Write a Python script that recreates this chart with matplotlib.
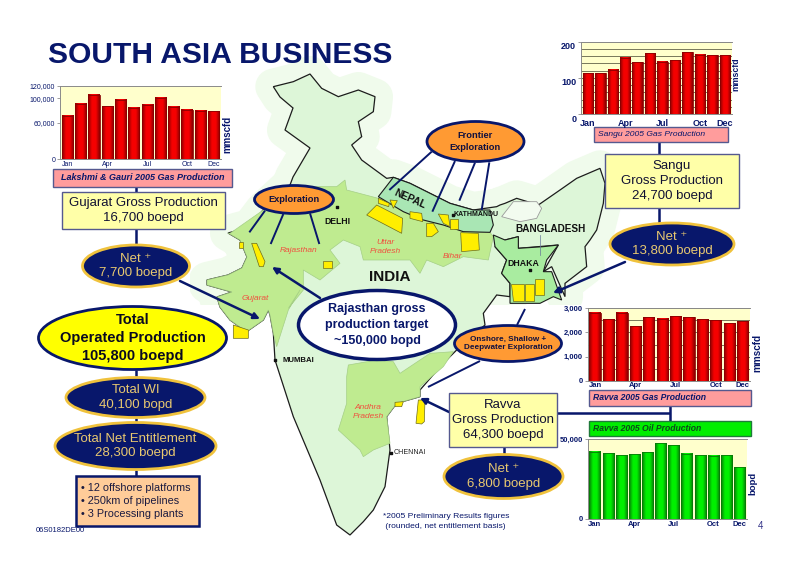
import numpy as np
import matplotlib
matplotlib.use('Agg')
import matplotlib.pyplot as plt
from matplotlib.patches import Ellipse, Polygon, Rectangle
from matplotlib.colors import LinearSegmentedColormap
from matplotlib.transforms import ScaledTranslation

plt.rcParams['font.family'] = ['Liberation Sans', 'DejaVu Sans']

# monthly production
tick_idx = [0, 3, 6, 9, 11]
tick_names = ['Jan', 'Apr', 'Jul', 'Oct', 'Dec']
lakshmi_gas = [70400, 90500, 105800, 86700, 97600, 84000, 89500, 101000, 85600, 80700, 79600, 78500]
sangu_gas = [113, 113, 123, 155, 143, 168, 145, 148, 171, 164, 162, 162]
ravva_gas = [2820, 2558, 2820, 2253, 2640, 2571, 2668, 2640, 2544, 2516, 2392, 2475]
ravva_oil = [42200, 41200, 39900, 40500, 42000, 47500, 46400, 41000, 40100, 39700, 40100, 32600]

NAVY = '#08176b'
GOLD = '#f0c23c'
GOLD_TXT = '#e8c870'
ORANGE = '#ff9a33'
CREAM = '#ffffa8'
EDGE = '#55598f'

Z5 = (230, 70)
Z6 = (230, 290)
Z9 = (490, 140)


def z(pts, origin):
    return [(origin[0] + a / 3, origin[1] + b / 3) for a, b in pts]


india = (
    z([(130, 50), (190, 35), (240, 12), (275, 55), (325, 80), (385, 60), (435, 80), (430, 125),
       (385, 155), (395, 200), (365, 225), (395, 270), (470, 325), (490, 322), (540, 340),
       (600, 370), (660, 400), (730, 420), (800, 410)], Z5)
    + z([(30, 195), (45, 190), (80, 175), (145, 195), (210, 150), (260, 115), (330, 85), (345, 130),
         (340, 190), (320, 270), (300, 300), (285, 320), (290, 380), (225, 430), (225, 470),
         (205, 425), (185, 380), (160, 395), (205, 315), (85, 325), (85, 290), (45, 300), (15, 320),
         (50, 360), (35, 400), (60, 430), (60, 470)], Z9)
    + z([(800, 15), (760, 70), (765, 105), (690, 170), (640, 220), (570, 300), (570, 320),
         (500, 340), (470, 380), (480, 480), (465, 590), (430, 660), (400, 695), (360, 735),
         (320, 705), (270, 570), (190, 380), (135, 210), (130, 130), (120, 75), (115, 60),
         (100, 90), (50, 125), (0, 90)], Z6)
    + [(220, 307), (217, 297), (232, 292), (207, 285), (207, 280), (228, 275), (242, 268), (247, 257),
       (240, 240), (228, 233), (250, 227), (263, 210), (290, 185), (293, 177), (310, 148), (285, 130),
       (293, 108), (280, 97)]
)
north_states = (
    z([(0, 490), (100, 420), (190, 350), (320, 350), (345, 330), (350, 360), (445, 385), (470, 395),
       (520, 425), (580, 450), (640, 465), (700, 485), (780, 487), (790, 500), (775, 570), (700, 560),
       (640, 590), (590, 570), (570, 610), (540, 570), (400, 570), (390, 530), (340, 510), (300, 540),
       (330, 580), (270, 630), (220, 600), (220, 660), (175, 715)], Z5)
    + z([(210, 0), (175, 60), (140, 170), (130, 130), (120, 75), (115, 60), (100, 90), (50, 125), (0, 90)], Z6)
    + [(220, 307), (217, 297), (232, 292), (207, 285), (207, 280), (228, 275), (242, 268), (247, 257),
       (240, 240), (228, 233)]
)
andhra = z([(355, 225), (440, 210), (490, 215), (510, 250), (600, 190), (670, 185), (640, 230), (570, 290),
            (570, 320), (500, 340), (470, 380), (480, 460), (430, 480), (400, 500), (390, 480), (325, 420),
            (350, 340), (350, 260)], Z6)
nepal = z([(445, 380), (490, 322), (540, 340), (600, 370), (660, 400), (730, 420), (780, 420), (790, 465),
           (780, 487), (700, 485), (640, 465), (580, 450), (520, 425), (470, 395)], Z5)
bangladesh = z([(10, 285), (45, 300), (85, 290), (85, 325), (160, 320), (205, 315), (170, 360), (160, 395),
                (185, 395), (215, 480), (190, 470), (150, 490), (100, 490), (60, 490), (60, 430), (35, 400),
                (50, 360), (15, 320)], Z9)
bhutan = z([(815, 440), (850, 395), (920, 395), (935, 415), (920, 445), (870, 455)], Z5)
blocks = [
    z([(410, 435), (440, 405), (518, 445), (515, 490)], Z5),
    z([(445, 385), (478, 400), (476, 410), (445, 400)], Z5),
    z([(480, 390), (502, 392), (490, 415)], Z5),
    z([(540, 425), (575, 430), (578, 455), (540, 445)], Z5),
    z([(590, 460), (610, 460), (625, 485), (605, 500), (590, 500)], Z5),
    z([(625, 432), (655, 435), (660, 470), (640, 460)], Z5),
    z([(660, 447), (685, 447), (685, 478), (660, 478)], Z5),
    z([(692, 488), (745, 490), (748, 540), (695, 545)], Z5),
    z([(280, 573), (305, 573), (305, 595), (280, 595)], Z5),
    z([(65, 520), (80, 520), (105, 575), (100, 590), (88, 590)], Z5),
    z([(28, 515), (40, 515), (40, 535), (28, 535)], Z5),
    z([(10, 105), (55, 120), (55, 145), (10, 145)], Z6),
    z([(495, 337), (520, 335), (515, 350), (495, 350)], Z6),
    z([(565, 330), (585, 330), (583, 395), (575, 402), (558, 400)], Z6),
    z([(62, 433), (102, 433), (102, 483), (70, 483)], Z9),
    z([(105, 432), (132, 432), (132, 483), (105, 483)], Z9),
    z([(135, 418), (162, 418), (162, 465), (135, 465)], Z9),
]

fig = plt.figure(figsize=(8, 5.65), dpi=100, facecolor='white')
bg = fig.add_axes([0, 0, 1, 1])
bg.set_xlim(0, 800)
bg.set_ylim(565, 0)
bg.axis('off')

# map; the pale halo only shows around the northern part
halo = Polygon(india, closed=True, fc='#f0fbec', ec='#f0fbec', lw=26, joinstyle='round', zorder=1)
bg.add_patch(halo)
halo.set_clip_path(Rectangle((190, 55), 440, 250, transform=bg.transData))
bg.add_patch(Polygon(india, closed=True, fc='#ddf6d8', ec='#1c1c1c', lw=0.9, zorder=2))
bg.add_patch(Polygon(north_states, closed=True, fc='#bfeb90', ec='#a5cf86', lw=0.5, zorder=3))
bg.add_patch(Polygon(andhra, closed=True, fc='#bfeb90', ec='#a5cf86', lw=0.5, zorder=3))
bg.add_patch(Polygon(nepal, closed=True, fc='#a9e6b4', ec='#1c1c1c', lw=0.8, zorder=4))
bg.add_patch(Polygon(bangladesh, closed=True, fc='#a9eca0', ec='#1c1c1c', lw=0.8, zorder=4))
bg.add_patch(Polygon(bhutan, closed=True, fc='#f2fbef', ec='#9a9a9a', lw=0.6, zorder=4))
for block in blocks:
    bg.add_patch(Polygon(block, closed=True, fc='#ffee00', ec='#6b6b20', lw=0.5, zorder=5))
# city dots
bg.scatter([337, 453, 530, 275, 391], [207, 215, 270, 360, 453], s=2, color='#111111', marker='s', zorder=5)
bg.plot([540, 540], [235, 255], color='#667799', lw=0.5, zorder=5)


def link(x0, y0, x1, y1, lw=1.8):
    bg.plot([x0, x1], [y0, y1], color=NAVY, lw=lw, zorder=6, solid_capstyle='butt')


def arrow(x0, y0, x1, y1):
    bg.annotate('', xy=(x1, y1), xytext=(x0, y0), zorder=6,
                arrowprops=dict(arrowstyle='-|>', color=NAVY, lw=1.8, mutation_scale=9, shrinkA=0, shrinkB=0))


for seg in [(605, 245, 478, 360), (675, 273, 607, 425), (735, 278, 688, 392), (778, 277, 755, 420),
            (105, 422, 58, 487), (160, 432, 122, 522), (240, 430, 268, 522)]:
    (a, b), (c, d) = z([seg[:2], seg[2:]], Z5)
    link(a, b, c, d, lw=1.4)
link(525, 309, 517, 325, lw=1.4)
link(480, 361, 428, 387, lw=1.4)
link(136, 187, 136, 192)
link(136, 229, 136, 245)
link(136, 370, 136, 377)
link(136, 418, 136, 422)
link(136, 470, 136, 476)
link(659, 142, 659, 154)
link(659, 208, 659, 223)
link(504, 447, 504, 454)
link(557, 413, 670, 413)
link(670, 406, 670, 421)
arrow(180, 281, 260, 319)
arrow(320, 298, 272, 267)
arrow(625, 262, 553, 293)
arrow(449, 412, 420, 398)


def box(x0, y0, x1, y1, fc, ec=EDGE, lw=1.0):
    bg.add_patch(Rectangle((x0, y0), x1 - x0, y1 - y0, fc=fc, ec=ec, lw=lw, zorder=7))


def oval(cx, cy, w, h, fc, ec, lw=2.0):
    bg.add_patch(Ellipse((cx, cy), w, h, fc=fc, ec=ec, lw=lw, zorder=7))


def label(x, y, s, size, color=NAVY, weight='normal', style='normal', ha='center', rot=0, sp=1.3):
    bg.text(x, y, s, fontsize=size, color=color, fontweight=weight, fontstyle=style, ha=ha,
            va='center', rotation=rot, linespacing=sp, zorder=8)


label(48, 55, 'SOUTH ASIA BUSINESS', 21.6, weight='bold', ha='left')

# left column
box(53, 169, 232, 187, '#ff9c9c')
label(142.5, 178, 'Lakshmi & Gauri 2005 Gas Production', 6.5, weight='bold', style='italic')
box(62, 192, 225, 229, CREAM)
label(143.5, 210.5, 'Gujarat Gross Production\n16,700 boepd', 9.5, color='#111133')
oval(136, 266, 107, 42, NAVY, GOLD)
label(136, 266, 'Net ⁺\n7,700 boepd', 9.5, color=GOLD_TXT)
oval(132.5, 338, 188, 63, '#ffff00', NAVY)
label(132.5, 338, 'Total\nOperated Production\n105,800 boepd', 10.5, color='#0a0a20', weight='bold', sp=1.4)
oval(135.5, 397.5, 139, 40, NAVY, GOLD)
label(135.5, 397.5, 'Total WI\n40,100 bopd', 9.5, color=GOLD_TXT)
oval(135.5, 446, 161, 47, NAVY, GOLD)
label(135.5, 446, 'Total Net Entitlement\n28,300 boepd', 9.5, color=GOLD_TXT)
box(76, 476, 199, 526, '#ffcc99', ec=NAVY, lw=1.8)
label(81, 501, '• 12 offshore platforms\n• 250km of pipelines\n• 3 Processing plants', 7.8,
      color='#1a1a40', ha='left', sp=1.4)
label(36, 531, '06S0182DE00', 5.5, ha='left')

# right column
box(594, 127, 728, 142, '#ff9c9c')
label(598, 134.5, 'Sangu 2005 Gas Production', 6.1, style='italic', ha='left')
box(605, 154, 739, 208, CREAM)
label(672, 181, 'Sangu\nGross Production\n24,700 boepd', 9.5, color='#111133')
oval(672, 244, 124, 42, NAVY, GOLD)
label(672, 244, 'Net ⁺\n13,800 boepd', 9.5, color=GOLD_TXT)
box(589, 390, 751, 406, '#ff9c9c')
label(593, 398, 'Ravva 2005 Gas Production', 6.2, weight='bold', style='italic', ha='left')
box(589, 421, 751, 436, '#00ee00', ec='#1f7a3a')
label(593, 428.5, 'Ravva 2005 Oil Production', 6.2, color='#0a4a1a', weight='bold', style='italic', ha='left')

# centre
box(449, 393, 557, 447, CREAM)
label(503, 420, 'Ravva\nGross Production\n64,300 boepd', 9.5, color='#111133')
oval(503.5, 476.5, 119, 44, NAVY, GOLD)
label(503.5, 476.5, 'Net ⁺\n6,800 boepd', 9.5, color=GOLD_TXT)
oval(377, 325, 157, 69, 'white', NAVY, lw=2.5)
label(377, 325, 'Rajasthan gross\nproduction target\n~150,000 bopd', 9, weight='bold', sp=1.4)
oval(475.5, 141.5, 97, 40, ORANGE, NAVY)
label(475.5, 141.5, 'Frontier\nExploration', 6.7, color='#101040', weight='bold')
oval(294, 199.5, 79, 28, ORANGE, NAVY)
label(294, 199.5, 'Exploration', 6.7, color='#101040', weight='bold')
oval(508, 343.5, 107, 36, ORANGE, NAVY)
label(508, 343.5, 'Onshore, Shallow +\nDeepwater Exploration', 5.9, color='#101040', weight='bold')

# place names on the map
label(390, 277, 'INDIA', 11, color='#111111', weight='bold')
label(410, 199, 'NEPAL', 7.4, color='#111111', weight='bold', rot=-24)
label(476, 215, 'KATHMANDU', 5, color='#111111', weight='bold')
label(337, 221, 'DELHI', 6.2, color='#111111', weight='bold')
label(551, 229, 'BANGLADESH', 7.2, color='#111111', weight='bold')
label(523, 264, 'DHAKA', 6.3, color='#111111', weight='bold')
label(298, 360, 'MUMBAI', 5.6, color='#111111', weight='bold')
label(410, 453, 'CHENNAI', 5.1, color='#222222')
for x, y, name in [(299, 250, 'Rajasthan'), (385, 247, 'Uttar\nPradesh'), (452, 256, 'Bihar'),
                   (255, 299, 'Gujarat'), (368, 412, 'Andhra\nPradesh')]:
    label(x, y, name, 6, color='#f0503f', style='italic')
label(383, 521.5, '*2005 Preliminary Results figures\n (rounded, net entitlement basis)', 6.1, ha='left', sp=1.4)
label(761, 526, '4', 7, color='#333388')


def production_chart(left, top, right, bottom, values, ymax, yticks, ylabels, grid_step, unit, unit_xy, unit_size,
                     bright, dark, tick_size, tick_weight, month_pad, ylab_shift=0.0):
    ax = fig.add_axes([left / 800, 1 - bottom / 565, (right - left) / 800, (bottom - top) / 565])
    ax.set_facecolor('#ffffcc')
    cmap = LinearSegmentedColormap.from_list('bar', [dark, bright, bright, dark])
    grad = np.linspace(0, 1, 32).reshape(1, -1)
    width = 0.84
    if grid_step:
        for g in np.arange(grid_step, ymax + 1, grid_step):
            ax.axhline(g, color='#77775a', lw=0.7, zorder=1)
    for i, v in enumerate(values):
        ax.imshow(grad, extent=(i - width / 2, i + width / 2, 0, v), aspect='auto', cmap=cmap, zorder=3)
    ax.bar(range(12), values, width=width, fill=False, edgecolor=dark, lw=0.6, zorder=4)
    ax.set_xlim(-0.55, 11.55)
    ax.set_ylim(0, ymax)
    ax.set_xticks(tick_idx, tick_names)
    ax.set_yticks(yticks, ylabels)
    ax.tick_params(axis='x', length=0, pad=month_pad, labelsize=tick_size, labelcolor=NAVY)
    ax.tick_params(axis='y', length=2, width=0.5, color='#777777', pad=1.5, labelsize=tick_size, labelcolor=NAVY)
    for t in ax.get_xticklabels() + ax.get_yticklabels():
        t.set_fontweight(tick_weight)
    if ylab_shift:
        for t in ax.get_yticklabels():
            t.set_transform(t.get_transform() + ScaledTranslation(0, -ylab_shift / 100, fig.dpi_scale_trans))
    for s in ax.spines.values():
        s.set_color('#8a8a8a')
        s.set_linewidth(0.7)
    ax.spines['right'].set_visible(False)
    bg.text(unit_xy[0], unit_xy[1], unit, rotation=90, fontsize=unit_size, fontweight='bold', color=NAVY,
            ha='center', va='center', zorder=8)
    return ax


production_chart(60, 86, 221, 159.3, lakshmi_gas, 120000, [0, 60000, 100000, 120000],
                 ['0', '60,000', '100,000', '120,000'], 0, 'mmscfd', (227, 134), 7,
                 '#f50000', '#8a0000', 5, 'normal', 1)
production_chart(581, 41.7, 731.7, 114, sangu_gas, 200, [0, 100, 200], ['0', '100', '200'], 20,
                 'mmscfd', (736, 74), 6.3, '#f50000', '#8a0000', 6.5, 'bold', 3.5, ylab_shift=4)
production_chart(587.7, 308.3, 750, 380.7, ravva_gas, 3000, [0, 1000, 2000, 3000],
                 ['0', '1,000', '2,000', '3,000'], 500, 'mmscfd', (757, 353), 7.2,
                 '#f50000', '#8a0000', 5.5, 'bold', 1)
production_chart(587.7, 439.3, 746.7, 518.7, ravva_oil, 50000, [0, 50000], ['0', '50,000'], 0,
                 'bopd', (753, 483), 6.8, '#00f000', '#087a08', 5.5, 'bold', 1.5)

fig.savefig('out.png', dpi=100, facecolor='white')
